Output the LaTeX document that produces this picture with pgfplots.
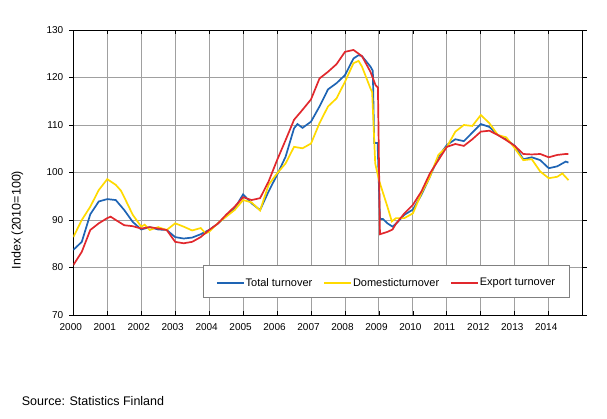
\documentclass[border=0pt]{standalone}
\usepackage{pgfplots}
\pgfplotsset{compat=1.18}
\usepackage{fontspec}
\setmainfont{Liberation Sans}
\definecolor{tot}{RGB}{30,100,180}
\definecolor{dom}{RGB}{255,218,0}
\definecolor{exp}{RGB}{225,40,45}
\definecolor{gridc}{RGB}{160,160,160}
\begin{document}
\begin{tikzpicture}[x=1pt,y=1pt]
\path[use as bounding box] (0,0) rectangle (607,418);
\begin{axis}[
    at={(73.3pt,103pt)}, anchor=south west,
    scale only axis, width=509.4pt, height=285pt,
    xmin=2000, xmax=2015, ymin=70, ymax=130,
    xtick={2000,2001,...,2014}, ytick={70,80,...,130},
    xtick align=inside, ytick align=outside,
    major tick length=4pt,
    tick style={black, line width=0.8pt},
    axis line style={black, line width=0.9pt},
    grid=major, major grid style={gridc, line width=0.9pt},
    /pgf/number format/assume math mode=true,
    /pgf/number format/1000 sep={},
    tick label style={font=\fontsize{10}{12}\selectfont},
    xticklabel style={yshift=-4.5pt, xshift=-2.5pt},
    yticklabel style={xshift=-2.5pt},
    legend columns=3,
    legend style={at={(0.9737,0.0607)}, anchor=south east,
        draw=none, fill=none,
        font=\fontsize{11}{12}\selectfont,
        nodes={inner xsep=1pt, inner ysep=2pt},
        inner xsep=13pt, inner ysep=8pt,
        /tikz/every even column/.append style={column sep=10pt}},
    legend image code/.code={\draw[#1, line width=1.7pt] (0pt,0pt) -- (27pt,0pt);},
    legend cell align=left,
]
\addplot[tot, line width=1.7pt] coordinates {
(2000.00,83.7) (2000.25,85.4) (2000.50,91.2) (2000.75,93.9) (2001.00,94.4)
(2001.25,94.2) (2001.50,92.1) (2001.75,89.6) (2002.00,88.0) (2002.25,88.5)
(2002.50,88.0) (2002.75,87.9) (2003.00,86.4) (2003.25,86.1) (2003.50,86.3)
(2003.75,87.0) (2004.00,87.9) (2004.25,89.2) (2004.50,90.8) (2004.75,92.4)
(2005.00,95.4) (2005.25,93.5) (2005.50,92.1) (2005.75,96.0) (2006.00,99.5)
(2006.25,103.3) (2006.50,109.3) (2006.60,110.2) (2006.75,109.4) (2007.00,110.7)
(2007.25,113.9) (2007.50,117.5) (2007.75,118.8) (2008.00,120.5) (2008.25,124.0)
(2008.40,124.7) (2008.50,124.5) (2008.75,122.3) (2008.82,121.4) (2008.86,106.2)
(2008.96,106.2) (2009.03,90.2) (2009.12,90.2) (2009.25,89.3) (2009.40,88.6)
(2009.50,89.2) (2009.75,91.1) (2010.00,92.2) (2010.25,95.3) (2010.50,99.1)
(2010.75,103.3) (2011.00,105.8) (2011.25,107.0) (2011.50,106.6) (2011.75,108.4)
(2012.00,110.2) (2012.25,109.6) (2012.50,107.9) (2012.75,107.0) (2013.00,105.6)
(2013.25,102.8) (2013.50,103.2) (2013.75,102.6) (2014.00,100.9) (2014.25,101.3)
(2014.50,102.3) (2014.58,102.1)
};
\addlegendentry{Total turnover}
\addplot[dom, line width=1.7pt] coordinates {
(2000.00,86.4) (2000.25,90.0) (2000.50,92.8) (2000.60,94.2) (2000.75,96.3)
(2001.00,98.6) (2001.25,97.4) (2001.40,96.2) (2001.50,94.8) (2001.75,91.1)
(2002.00,88.6) (2002.10,89.0) (2002.25,87.9) (2002.50,88.5) (2002.75,87.9)
(2003.00,89.3) (2003.25,88.6) (2003.50,87.8) (2003.75,88.3) (2003.90,87.2)
(2004.00,87.5) (2004.25,89.3) (2004.50,90.7) (2004.75,92.1) (2005.00,94.2)
(2005.25,93.7) (2005.50,92.0) (2005.75,97.4) (2006.00,99.8) (2006.25,101.9)
(2006.50,105.4) (2006.75,105.1) (2007.00,106.1) (2007.25,110.4) (2007.50,113.9)
(2007.75,115.6) (2008.00,119.1) (2008.25,123.0) (2008.40,123.5) (2008.50,122.3)
(2008.75,117.7) (2008.80,116.9) (2008.89,101.9) (2009.00,98.4) (2009.25,92.8)
(2009.38,89.7) (2009.50,90.4) (2009.75,90.4) (2010.00,91.4) (2010.25,95.6)
(2010.50,99.1) (2010.75,103.7) (2011.00,105.4) (2011.25,108.6) (2011.50,110.0)
(2011.75,109.8) (2012.00,112.1) (2012.25,110.4) (2012.50,107.9) (2012.75,107.4)
(2013.00,105.1) (2013.25,102.6) (2013.50,102.8) (2013.75,100.2) (2014.00,98.8)
(2014.25,99.1) (2014.40,99.8) (2014.58,98.4)
};
\addlegendentry{Domesticturnover}
\addplot[exp, line width=1.7pt] coordinates {
(2000.00,80.5) (2000.25,83.3) (2000.50,87.9) (2000.75,89.3) (2001.00,90.4)
(2001.10,90.7) (2001.25,90.0) (2001.50,88.9) (2001.75,88.7) (2002.00,88.2)
(2002.25,88.5) (2002.50,88.2) (2002.75,87.9) (2003.00,85.4) (2003.25,85.1)
(2003.50,85.4) (2003.75,86.4) (2004.00,87.9) (2004.25,89.2) (2004.50,91.1)
(2004.75,92.8) (2005.00,94.8) (2005.25,94.2) (2005.50,94.6) (2005.75,98.1)
(2006.00,102.6) (2006.25,106.8) (2006.50,111.1) (2006.75,113.2) (2007.00,115.4)
(2007.25,119.8) (2007.50,121.2) (2007.75,122.8) (2008.00,125.4) (2008.25,125.8)
(2008.50,124.5) (2008.75,121.2) (2008.90,118.4) (2008.97,117.9) (2009.03,87.0)
(2009.25,87.5) (2009.40,88.0) (2009.50,89.2) (2009.75,91.4) (2010.00,93.2)
(2010.25,96.0) (2010.50,99.8) (2010.75,102.6) (2011.00,105.4) (2011.25,106.0)
(2011.50,105.6) (2011.75,107.0) (2012.00,108.6) (2012.25,108.8) (2012.50,107.9)
(2012.75,106.8) (2013.00,105.6) (2013.25,103.9) (2013.50,103.8) (2013.75,103.9)
(2014.00,103.2) (2014.25,103.7) (2014.50,103.9) (2014.58,103.9)
};
\addlegendentry{Export turnover}
% legend frame, drawn under the legend entries
\path[draw=gray, line width=0.8pt, fill=white]
    (rel axis cs:0.2552,0.0607) rectangle (rel axis cs:0.9737,0.1730);
\end{axis}
\node[rotate=90, font=\fontsize{12.5}{14}\selectfont] at (17.5,198) {Index (2010=100)};
\node[anchor=west, inner sep=0pt, font=\fontsize{12.5}{14}\selectfont] at (21.7,17) {Source: Statistics Finland};
\end{tikzpicture}
\end{document}
